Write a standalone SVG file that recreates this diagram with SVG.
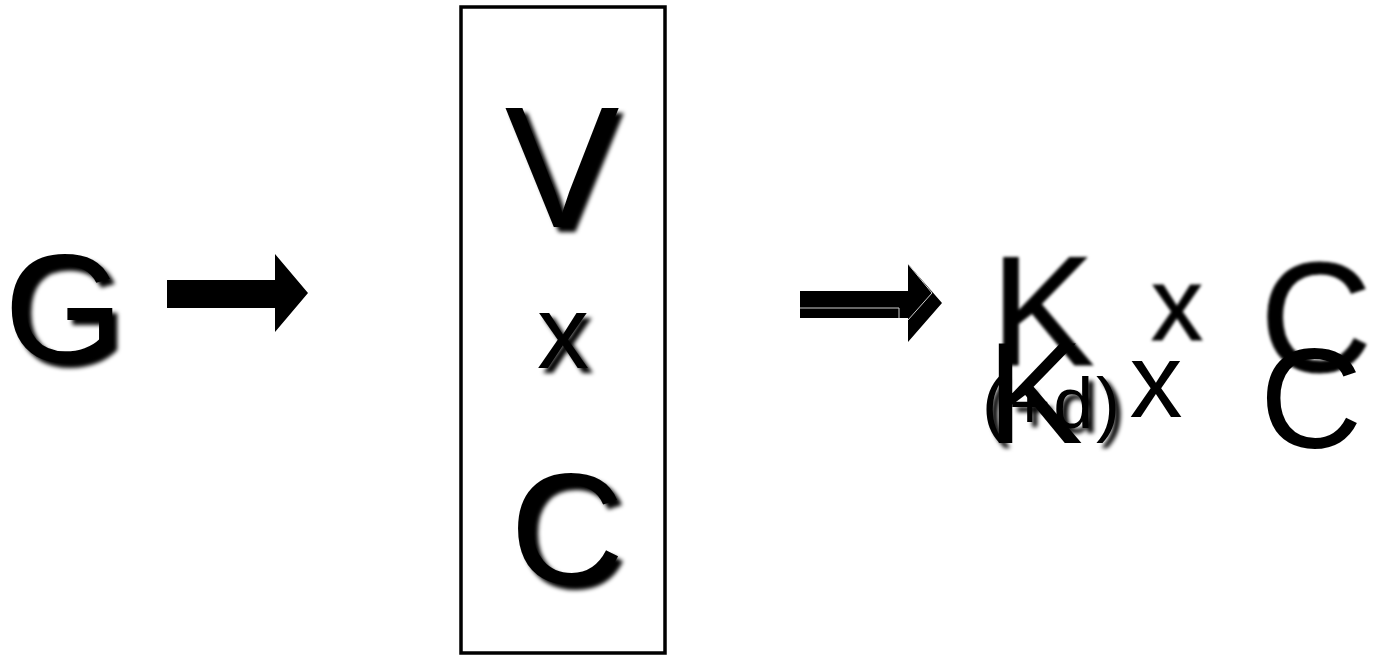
<svg xmlns="http://www.w3.org/2000/svg" width="1373" height="656" viewBox="0 0 1373 656">
<style>
.t{font-family:"Liberation Sans",Arial,sans-serif;fill:#000}
.sh{filter:url(#shadow)}
.bl{filter:url(#blur)}
.bl text{stroke:#000;stroke-width:1}
.inner{fill:none;stroke:#cfcfcf;stroke-width:1}
</style>
<defs>
<filter id="shadow" x="-20%" y="-20%" width="150%" height="150%">
<feDropShadow dx="5" dy="5" stdDeviation="2.2" flood-color="#000" flood-opacity="1"/>
</filter>
<filter id="blur" x="-20%" y="-20%" width="140%" height="140%">
<feGaussianBlur stdDeviation="1.6"/>
</filter>
</defs>
<rect width="1373" height="656" fill="#fff"/>
<g id="node-G">
<text class="t sh" x="4" y="362" font-size="154">G</text>
</g>
<g id="node-box">
<rect x="461" y="7" width="204" height="646" fill="none" stroke="#000" stroke-width="3.5"/>
<text class="t sh" x="562" y="227" font-size="172" text-anchor="middle">V</text>
<text class="t sh" x="563" y="368" font-size="104" text-anchor="middle">x</text>
<text class="t sh" x="567" y="583" font-size="158" text-anchor="middle">C</text>
</g>
<g id="node-KxC-blur" class="bl">
<text class="t" x="991" y="365" font-size="155">K</text>
<text class="t" x="1177" y="340" font-size="104" text-anchor="middle">x</text>
<text class="t" x="1316" y="371" font-size="155" text-anchor="middle">C</text>
</g>
<g id="node-KdxC">
<text class="t sh" x="982" y="428" font-size="72" textLength="138" lengthAdjust="spacing">(+d)</text>
<text class="t" x="987" y="443" font-size="144">K</text>
<text class="t" x="1156" y="417" font-size="106" text-anchor="middle">x</text>
<text class="t" x="1311" y="448" font-size="142" text-anchor="middle">C</text>
</g>
<g id="connectors">
<polygon points="167,280 275,280 275,254 308,293 275,332 275,308 167,308" fill="#000"/>
<polygon points="800,291 908,291 908,264 942,303 908,342 908,318 800,318" fill="#000"/>
<path class="inner" d="M800,308 H899 V318"/>
<path class="inner" d="M908,264 L932,293 L908,320"/>
</g>
</svg>
